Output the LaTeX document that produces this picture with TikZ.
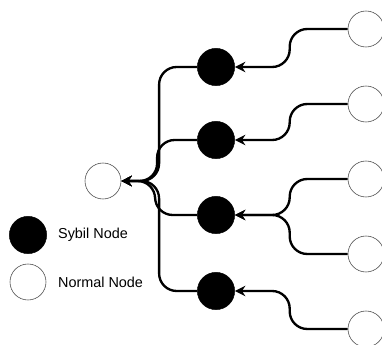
\documentclass[tikz,border=0pt]{standalone}
\usepackage{fontspec}
\setmainfont{Liberation Sans}
\usetikzlibrary{arrows.meta}

\begin{document}
\begin{tikzpicture}[x=0.03cm,y=-0.03cm]
      \tikzset{normal/.style = {shape=circle,draw=black!70,line width=0.5pt,fill=white,minimum size=1.08cm,inner sep=0pt}}
      \tikzset{sybil/.style = {shape=circle,draw,fill=black,minimum size=1.12cm,inner sep=0pt}}
      \tikzset{edge/.style = {line width=2pt,rounded corners=15pt,-{Stealth[length=9pt,width=9pt,inset=3pt]}}}
      \tikzset{legend/.style = {anchor=west,font=\fontsize{12.3}{14}\selectfont}}
      \useasboundingbox (0,0) rectangle (382,345);
      \node[normal] (c) at (103, 181) {};
      \node[sybil] (s1) at (216, 67) {};
      \node[sybil] (s2) at (216, 140) {};
      \node[sybil] (s3) at (216, 215) {};
      \node[sybil] (s4) at (216, 291) {};
      \node[normal] (r1) at (366, 29) {};
      \node[normal] (r2) at (366, 104) {};
      \node[normal] (r3) at (366, 179) {};
      \node[normal] (r4) at (366, 254) {};
      \node[normal] (r5) at (366, 329) {};
      \node[sybil] (ls) at (28, 235) {};
      \node[normal] (ln) at (28, 282) {};
      \node[legend] (lst) at (54, 235) {Sybil Node};
      \node[legend] (lnt) at (54, 282) {Normal Node};
      % normal nodes -> sybil nodes
      \draw[edge] (r1.west) -- ++(-58,0) |- (s1.east);
      \draw[edge] (r2.west) -- ++(-58,0) |- (s2.east);
      \draw[edge] (r3.west) -- ++(-58,0) |- (s3.east);
      \draw[edge] (r4.west) -- ++(-58,0) |- (s3.east);
      \draw[edge] (r5.west) -- ++(-58,0) |- (s4.east);
      % sybil nodes -> attacked node
      \draw[edge] (s1.west) -- ++(-38,0) |- (c.east);
      \draw[edge] (s2.west) -- ++(-40,0) |- (c.east);
      \draw[edge] (s3.west) -- ++(-42,0) |- (c.east);
      \draw[edge] (s4.west) -- ++(-38,0) |- (c.east);
\end{tikzpicture}
\end{document}
